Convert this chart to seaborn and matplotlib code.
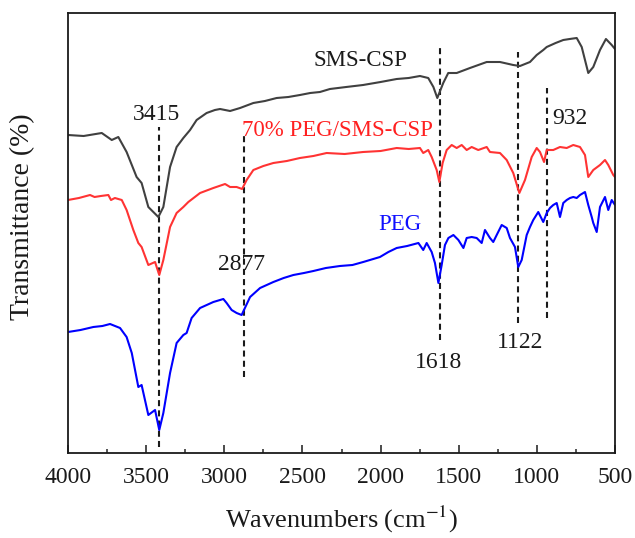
import matplotlib
matplotlib.use("Agg")
import matplotlib.pyplot as plt
import seaborn as sns
import pandas as pd
from matplotlib.ticker import MultipleLocator

# ---- data (wavenumber in cm^-1, transmittance in arbitrary offset units) ----
sms_wn = [4000, 3900, 3784, 3720, 3678, 3625, 3561, 3529, 3486, 3454,
          3422, 3390, 3347, 3305, 3262, 3219, 3177, 3113, 3060, 3027,
          2963, 2899, 2814, 2740, 2665, 2590, 2516, 2450, 2388, 2324,
          2220, 2112, 2000, 1897, 1820, 1748, 1695, 1662, 1637, 1599,
          1567, 1513, 1428, 1321, 1236, 1151, 1108, 1044, 1001, 959,
          937, 880, 831, 790, 745, 713, 671, 639, 596, 558,
          521, 500]
sms_t = [318, 317, 320, 313, 316, 301, 276, 270, 246, 241,
         236, 246, 286, 306, 315, 323, 333, 340, 343, 344,
         342, 345, 350, 352, 355, 356, 358, 360, 361, 364,
         366, 368, 371, 374, 375, 377, 375, 366, 355, 370,
         380, 380, 385, 391, 391, 388, 387, 391, 398, 403,
         406, 410, 413, 414, 415, 406, 380, 386, 403, 414,
         408, 404]

mix_wn = [4000, 3930, 3859, 3830, 3790, 3742, 3725, 3700, 3656, 3625,
          3582, 3550, 3529, 3486, 3443, 3416, 3390, 3347, 3305, 3262,
          3230, 3155, 3070, 2995, 2963, 2921, 2886, 2857, 2814, 2750,
          2686, 2600, 2516, 2430, 2345, 2230, 2112, 2000, 1897, 1820,
          1748, 1727, 1695, 1673, 1641, 1624, 1603, 1577, 1545, 1513,
          1481, 1449, 1417, 1375, 1321, 1300, 1236, 1193, 1151, 1112,
          1076, 1033, 1001, 980, 954, 937, 895, 852, 809, 767,
          724, 692, 671, 639, 596, 564, 543, 511, 500]
mix_t = [253, 255, 258, 256, 257, 258, 253, 255, 253, 243,
         223, 210, 206, 188, 191, 178, 193, 226, 240, 246,
         251, 260, 265, 269, 266, 266, 264, 273, 283, 287,
         290, 292, 295, 297, 300, 299, 301, 302, 305, 304,
         305, 300, 303, 296, 283, 271, 290, 303, 308, 305,
         308, 303, 306, 303, 306, 301, 300, 293, 280, 260,
         273, 296, 305, 301, 291, 303, 303, 306, 305, 308,
         306, 298, 276, 283, 288, 293, 288, 278, 276]

peg_wn = [4000, 3920, 3838, 3780, 3731, 3667, 3625, 3592, 3550, 3529,
          3486, 3443, 3416, 3390, 3347, 3305, 3262, 3241, 3209, 3155,
          3070, 3006, 2985, 2953, 2921, 2889, 2835, 2771, 2686, 2620,
          2558, 2490, 2430, 2350, 2260, 2180, 2111, 2004, 1950, 1897,
          1830, 1758, 1727, 1705, 1673, 1652, 1630, 1609, 1588, 1566,
          1534, 1502, 1470, 1449, 1417, 1385, 1353, 1332, 1300, 1279,
          1257, 1225, 1193, 1172, 1140, 1119, 1097, 1065, 1044, 1023,
          991, 959, 937, 916, 895, 873, 852, 831, 809, 788,
          767, 745, 724, 692, 671, 649, 639, 617, 596, 564,
          543, 521, 500]
peg_t = [121, 123, 126, 127, 129, 125, 116, 100, 66, 68,
         38, 43, 23, 40, 80, 110, 118, 120, 135, 145,
         151, 154, 150, 143, 140, 138, 156, 165, 171, 175,
         178, 180, 182, 185, 187, 188, 191, 196, 201, 205,
         207, 210, 203, 210, 201, 190, 170, 188, 208, 215,
         218, 213, 205, 215, 216, 215, 210, 223, 215, 211,
         218, 228, 225, 215, 206, 186, 193, 218, 226, 233,
         241, 231, 240, 245, 248, 250, 236, 250, 253, 255,
         256, 255, 258, 261, 248, 236, 230, 221, 246, 256,
         243, 253, 248]

series_names = ["SMS-CSP", "70% PEG/SMS-CSP", "PEG"]
series_colors = ["#404040", "#ff3333", "#0000ff"]
label_colors = ["#1a1a1a", "#ff2020", "#1010ff"]

# peak markers: wavenumber, dashed line top/bottom, label position
peak_labels = ["3415", "2877", "1618", "1122", "932"]
peak_wn = [3415, 2877, 1618, 1122, 932]
peak_top = [326, 320, 406, 401, 365]
peak_bottom = [6, 76, 113, 130, 135]
peak_label_x = [3432, 2893, 1628, 1108, 788]
peak_label_y = [338, 188, 91, 110, 335]

# curve name label positions
name_x = [2132, 2886, 1876]
name_y = [393, 322, 228]
name_ha = ["center", "left", "center"]

# ---- build table ----
frames = []
for name, wn, t in zip(series_names, [sms_wn, mix_wn, peg_wn], [sms_t, mix_t, peg_t]):
    frames.append(pd.DataFrame({"wn": wn, "t": t, "sample": name}))
df = pd.concat(frames, ignore_index=True)

sns.set_theme(style="white")
plt.rcParams["font.family"] = ["Liberation Serif", "DejaVu Serif"]
plt.rcParams["mathtext.fontset"] = "stix"

fig = plt.figure(figsize=(6.35, 5.38), dpi=100)
ax = fig.add_axes([68 / 635, (538 - 453) / 538, 547 / 635, 440 / 538])

sns.lineplot(data=df, x="wn", y="t", hue="sample", hue_order=series_names,
             palette=dict(zip(series_names, series_colors)), sort=False,
             estimator=None, linewidth=1.5, legend=False, ax=ax)

for wn, top, bot in zip(peak_wn, peak_top, peak_bottom):
    ax.plot([wn, wn], [bot, top], color="#1a1a1a", lw=1.5, ls=(0, (2.9, 2.0)), zorder=1)

for lab, x, y in zip(peak_labels, peak_label_x, peak_label_y):
    ax.text(x, y, lab, ha="center", va="center", fontsize=17, color="#1a1a1a")

for lab, x, y, ha, c in zip(series_names, name_x, name_y, name_ha, label_colors):
    ax.text(x, y, lab, ha=ha, va="center", fontsize=16.5, color=c)

ax.set_xlim(4000, 500)
ax.set_ylim(0, 440)
ax.xaxis.set_major_locator(MultipleLocator(500))
ax.xaxis.set_minor_locator(MultipleLocator(250))
ax.set_yticks([])
ax.tick_params(axis="x", which="major", direction="in", length=6, width=1.1,
               labelsize=17, pad=10, colors="#1a1a1a", bottom=True, top=False)
ax.tick_params(axis="x", which="minor", direction="in", length=3, width=1.1,
               bottom=True, top=False)
for s in ax.spines.values():
    s.set_visible(True)
    s.set_color("#1a1a1a")
    s.set_linewidth(1.3)

ax.set_xlabel(r"Wavenumbers (cm$^{\mathrm{-1}}$)", fontsize=19, color="#1a1a1a")
ax.set_ylabel("Transmittance (%)", fontsize=20, color="#1a1a1a")
ax.xaxis.set_label_coords(0.5, (453 - 519) / 440)
ax.xaxis.label.set_va("center")
ax.yaxis.set_label_coords((23 - 68) / 547, (453 - 217) / 440)
ax.yaxis.label.set_va("center")

fig.savefig("out.png", dpi=100)
